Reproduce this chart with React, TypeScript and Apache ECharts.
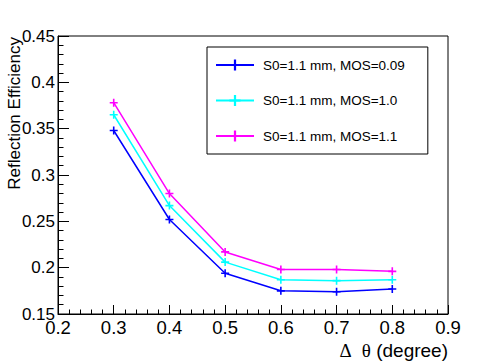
import React, { useEffect, useRef } from "react";
import * as echarts from "echarts";

const xValues = [0.3, 0.4, 0.5, 0.6, 0.7, 0.8];
const mos009 = [0.348, 0.252, 0.194, 0.175, 0.174, 0.177];
const mos10 = [0.365, 0.267, 0.206, 0.187, 0.186, 0.187];
const mos11 = [0.378, 0.280, 0.217, 0.198, 0.198, 0.196];
const seriesNames = ["S0=1.1 mm, MOS=0.09", "S0=1.1 mm, MOS=1.0", "S0=1.1 mm, MOS=1.1"];
const seriesColors = ["#0000ff", "#00ffff", "#ff00ff"];
const xTitleGreek1 = "Δ";
const xTitleGreek2 = "θ";
const xTitleRest = "(degree)";
const yTitle = "Reflection Efficiency";

const FONT = "Liberation Sans, Arial, Helvetica, sans-serif";
const SERIF = "Liberation Serif, DejaVu Serif, serif";
const PLUS = "path://M4,0 h2 v4 h4 v2 h-4 v4 h-2 v-4 h-4 v-2 h4 z";

export default function App() {
  const ref = useRef<HTMLDivElement>(null);
  useEffect(() => {
    if (!ref.current) return;
    const chart = echarts.init(ref.current, undefined, { renderer: "svg" });
    const allSeries = [mos009, mos10, mos11];
    const fmt = (v: number) => String(parseFloat(v.toFixed(2)));
    chart.setOption({
      animation: false,
      backgroundColor: "#ffffff",
      textStyle: { fontFamily: FONT },
      grid: {
        left: 58,
        right: 50,
        top: 36,
        bottom: 47,
        show: true,
        borderColor: "#000",
        borderWidth: 1,
      },
      legend: {
        orient: "vertical",
        left: 207,
        top: 47,
        padding: [11, 23, 11, 8],
        itemGap: 21.5,
        itemWidth: 38,
        itemHeight: 14,
        borderColor: "#000",
        borderWidth: 1,
        backgroundColor: "#fff",
        selectedMode: false,
        textStyle: { fontSize: 13.5, color: "#000", fontFamily: FONT, padding: [0, 0, 0, 4] },
        data: seriesNames,
      },
      xAxis: {
        type: "value",
        min: 0.2,
        max: 0.9,
        interval: 0.1,
        axisLine: { show: true, lineStyle: { color: "#000", width: 1 } },
        axisTick: { show: true, inside: true, length: 9, lineStyle: { color: "#000" } },
        minorTick: { show: true, splitNumber: 5, length: 4.5, lineStyle: { color: "#000" } },
        splitLine: { show: false },
        minorSplitLine: { show: false },
        axisLabel: {
          fontSize: 18.5,
          color: "#000",
          fontFamily: FONT,
          margin: 4,
          formatter: fmt,
        },
      },
      yAxis: {
        type: "value",
        min: 0.15,
        max: 0.45,
        interval: 0.05,
        axisLine: { show: true, lineStyle: { color: "#000", width: 1 } },
        axisTick: { show: true, inside: true, length: 11, lineStyle: { color: "#000" } },
        minorTick: { show: true, splitNumber: 5, length: 5.5, lineStyle: { color: "#000" } },
        splitLine: { show: false },
        minorSplitLine: { show: false },
        axisLabel: {
          fontSize: 17,
          color: "#000",
          fontFamily: FONT,
          margin: 3,
          formatter: fmt,
        },
      },
      graphic: [
        {
          type: "text",
          x: 14,
          y: 37,
          rotation: Math.PI / 2,
          style: {
            text: yTitle,
            fontSize: 17,
            fontFamily: FONT,
            fill: "#000",
            align: "right",
            verticalAlign: "middle",
          },
        },
        {
          type: "text",
          x: 448,
          y: 350,
          style: {
            text: `{g|${xTitleGreek1}}{sp| }{g|${xTitleGreek2}}{t| ${xTitleRest}}`,
            fontSize: 19,
            fontFamily: FONT,
            fill: "#000",
            align: "right",
            verticalAlign: "middle",
            rich: {
              g: { fontFamily: SERIF, fontSize: 19, fill: "#000" },
              sp: { fontFamily: FONT, fontSize: 19, width: 10 },
              t: { fontFamily: FONT, fontSize: 19, fill: "#000" },
            },
          },
        },
      ],
      series: allSeries.map((vals, i) => ({
        name: seriesNames[i],
        type: "line",
        data: xValues.map((x, j) => [x, vals[j]]),
        symbol: PLUS,
        symbolSize: 8,
        showSymbol: true,
        lineStyle: { color: seriesColors[i], width: 1.5 },
        itemStyle: { color: seriesColors[i] },
        emphasis: { disabled: true },
      })),
    });
    return () => chart.dispose();
  }, []);
  return (
    <div
      ref={ref}
      style={{ position: "fixed", left: 0, top: 0, width: 498, height: 361, background: "#fff" }}
    />
  );
}
